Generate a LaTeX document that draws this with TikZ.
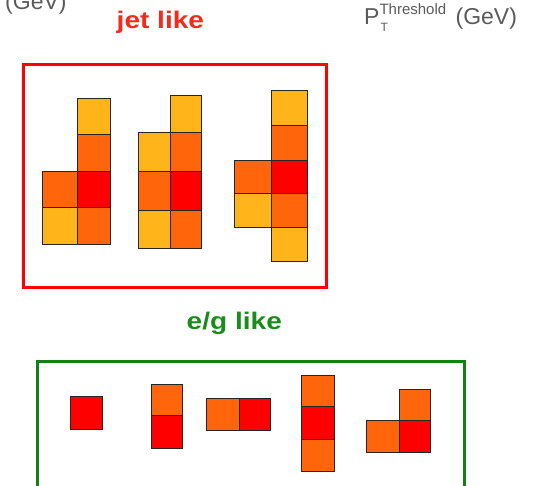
\documentclass[tikz,border=0pt]{standalone}
\usepackage{fontspec}
\setmainfont{Liberation Sans}
\definecolor{cy}{HTML}{FFB41A}
\definecolor{co}{HTML}{FF650A}
\definecolor{cr}{HTML}{FF0000}
\definecolor{boxred}{HTML}{FF0000}
\definecolor{boxgreen}{HTML}{128012}
\definecolor{txtgreen}{HTML}{1A8C1A}
\definecolor{txtred}{HTML}{F52A1A}
\definecolor{txtgray}{HTML}{5A5A5A}
\begin{document}
\begin{tikzpicture}[x=1pt,y=-1pt,
  cellbox/.style={draw=black!85,line width=0.9pt},
  frame/.style={line width=3pt},
  title/.style={font=\fontsize{24}{24}\selectfont\bfseries,inner sep=0pt},
  unit/.style={font=\fontsize{23}{23}\selectfont,text=txtgray,inner sep=0pt}]
\useasboundingbox (0,0) rectangle (544,486);
\clip (0,0) rectangle (544,486);
% titles
\node[unit,anchor=base west] (gevleft) at (5,10) {(GeV)};
\node[unit,anchor=base west] (ptlabel) at (364,25) {P{\fontsize{15}{15}\selectfont\rlap{\hspace{1pt}\raisebox{-7pt}{\fontsize{12}{12}\selectfont T}}\raisebox{10pt}{Threshold}}\hspace{3pt} (GeV)};
\node[title,text=txtred,anchor=base west] (jet) at (116.5,28.3) {\scalebox{1.17}[1]{jet like}};
\node[title,text=txtgreen,anchor=base west] (eg) at (186.5,329.5) {\scalebox{1.17}[1]{e/g like}};
% frames
\draw[frame,draw=boxred] (23,65) rectangle (326,287.5);
\draw[frame,draw=boxgreen] (37.5,362) rectangle (464,492);
% jet cluster 1
\filldraw[cellbox,fill=cy] (77.3,98.3) rectangle (110.7,134);
\filldraw[cellbox,fill=co] (77.3,134) rectangle (110.7,171);
\filldraw[cellbox,fill=cr] (77.3,171) rectangle (110.7,207.3);
\filldraw[cellbox,fill=co] (77.3,207.3) rectangle (110.7,244);
\filldraw[cellbox,fill=co] (42.7,171) rectangle (77.3,207.3);
\filldraw[cellbox,fill=cy] (42.7,207.3) rectangle (77.3,244);
% jet cluster 2
\filldraw[cellbox,fill=cy] (170,95) rectangle (201.7,132.3);
\filldraw[cellbox,fill=co] (170,132.3) rectangle (201.7,171.7);
\filldraw[cellbox,fill=cr] (170,171.7) rectangle (201.7,210.7);
\filldraw[cellbox,fill=co] (170,210.7) rectangle (201.7,248.3);
\filldraw[cellbox,fill=cy] (138.3,132.3) rectangle (170,171.7);
\filldraw[cellbox,fill=co] (138.3,171.7) rectangle (170,210.7);
\filldraw[cellbox,fill=cy] (138.3,210.7) rectangle (170,248.3);
% jet cluster 3
\filldraw[cellbox,fill=cy] (271.7,90.7) rectangle (307.7,125.7);
\filldraw[cellbox,fill=co] (271.7,125.7) rectangle (307.7,160);
\filldraw[cellbox,fill=cr] (271.7,160) rectangle (307.7,193.3);
\filldraw[cellbox,fill=co] (271.7,193.3) rectangle (307.7,227.7);
\filldraw[cellbox,fill=cy] (271.7,227.7) rectangle (307.7,261.7);
\filldraw[cellbox,fill=co] (234.3,160) rectangle (271.7,193.3);
\filldraw[cellbox,fill=cy] (234.3,193.3) rectangle (271.7,227.7);
% e/g clusters
\filldraw[cellbox,fill=cr] (70.7,396.7) rectangle (102.7,429);
\filldraw[cellbox,fill=co] (151,384.3) rectangle (182.7,415.7);
\filldraw[cellbox,fill=cr] (151,415.7) rectangle (182.7,448.3);
\filldraw[cellbox,fill=co] (206.7,398.3) rectangle (239.3,430);
\filldraw[cellbox,fill=cr] (239.3,398.3) rectangle (270,430);
\filldraw[cellbox,fill=co] (301.7,375.7) rectangle (334,406.7);
\filldraw[cellbox,fill=cr] (301.7,406.7) rectangle (334,439.3);
\filldraw[cellbox,fill=co] (301.7,439.3) rectangle (334,471.7);
\filldraw[cellbox,fill=co] (399,389) rectangle (430,420.7);
\filldraw[cellbox,fill=co] (366.7,420.7) rectangle (399,452.3);
\filldraw[cellbox,fill=cr] (399,420.7) rectangle (430,452.3);
\end{tikzpicture}
\end{document}
